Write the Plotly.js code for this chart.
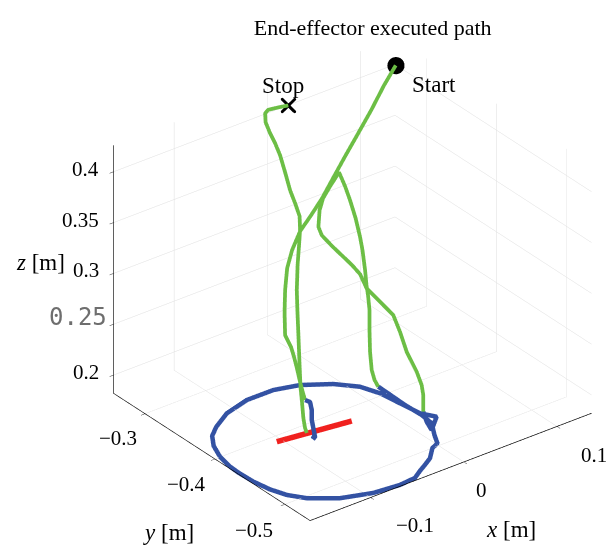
<!DOCTYPE html>
<html><head><meta charset="utf-8">
<script src="https://cdn.plot.ly/plotly-3.0.1.min.js"></script>
<style>html,body{margin:0;padding:0;background:#fff}</style>
</head><body>
<div id="chart" style="width:607px;height:547px"></div>
<script>
// descent from Start
const descentX = [0.1102,0.0966,0.0808,0.0642,0.0502,0.0371,0.0228,0.0106,-0.0014,-0.0122,-0.0206,-0.0282,-0.0348,-0.0409,-0.0403,-0.0411,-0.0424,-0.0441,-0.0452,-0.0458];
const descentY = [-0.2918,-0.2931,-0.2957,-0.2977,-0.2993,-0.3010,-0.3029,-0.3035,-0.3037,-0.3066,-0.3108,-0.3180,-0.3260,-0.3349,-0.3426,-0.3480,-0.3541,-0.3606,-0.3663,-0.3700];
const descentZ = [0.4249,0.4105,0.3926,0.3747,0.3597,0.3454,0.3296,0.3175,0.3060,0.2924,0.2795,0.2638,0.2480,0.2315,0.2230,0.2158,0.2072,0.1979,0.1900,0.1850];
// approach to the red bar (blue)
const approachX = [-0.0458,-0.0445,-0.0517,-0.0621,-0.0697,-0.0776,-0.0786,-0.0790];
const approachY = [-0.3700,-0.3754,-0.3874,-0.4013,-0.4137,-0.4267,-0.4237,-0.4300];
const approachZ = [0.185,0.185,0.185,0.185,0.185,0.185,0.185,0.185];
// ascent to Stop
const ascentX = [-0.0790,-0.0788,-0.0771,-0.0737,-0.0705,-0.0647,-0.0570,-0.0506,-0.0454,-0.0377,-0.0311,-0.0262,-0.0225,-0.0219,-0.0216,-0.0199,-0.0184,-0.0184,-0.0190,-0.0189,-0.0167,-0.0137,-0.0092,-0.0040,0.0013];
const ascentY = [-0.4167,-0.4139,-0.4093,-0.4029,-0.3965,-0.3873,-0.3754,-0.3654,-0.3576,-0.3485,-0.3418,-0.3367,-0.3311,-0.3239,-0.3163,-0.3069,-0.2978,-0.2907,-0.2843,-0.2777,-0.2741,-0.2743,-0.2770,-0.2801,-0.2834];
const ascentZ = [0.1850,0.1886,0.1957,0.2065,0.2172,0.2337,0.2552,0.2731,0.2874,0.3053,0.3196,0.3303,0.3404,0.3497,0.3590,0.3719,0.3840,0.3926,0.3998,0.4077,0.4141,0.4166,0.4177,0.4188,0.4198];
// up-and-down loop on the right
const loopX = [0.0074,0.0068,0.0077,0.0117,0.0175,0.0232,0.0264,0.0282,0.0315,0.0354,0.0375,0.0398,0.0411,0.0417,0.0416,0.0316,0.0235,0.0177,0.0122,0.0121,0.0160,0.0206,0.0241,0.0270,0.0274,0.0314,0.0378,0.0376,0.0365,0.0376,0.0372,0.0355,0.0288,0.0219];
const loopY = [-0.4038,-0.3993,-0.3940,-0.3863,-0.3778,-0.3702,-0.3638,-0.3592,-0.3528,-0.3439,-0.3376,-0.3282,-0.3185,-0.3106,-0.3021,-0.3026,-0.3034,-0.3061,-0.3118,-0.3167,-0.3263,-0.3363,-0.3440,-0.3516,-0.3606,-0.3696,-0.3847,-0.3946,-0.4056,-0.4185,-0.4261,-0.4307,-0.4396,-0.4489];
const loopZ = [0.1945,0.1993,0.2065,0.2194,0.2351,0.2494,0.2602,0.2673,0.2781,0.2924,0.3019,0.3153,0.3282,0.3382,0.3482,0.3382,0.3296,0.3210,0.3091,0.3031,0.2953,0.2876,0.2817,0.2752,0.2650,0.2578,0.2459,0.2339,0.2196,0.2053,0.1957,0.1886,0.1850,0.1850];
// circle (blue)
const circleX = [0.0202,0.0197,0.0191,0.0200,0.0181,0.0078,0.0010,-0.0071,-0.0195,-0.0299,-0.0395,-0.0502,-0.0676,-0.0940,-0.1219,-0.1444,-0.1545,-0.1600,-0.1632,-0.1639,-0.1633,-0.1599,-0.1528,-0.1434,-0.1314,-0.1099,-0.0825,-0.0541,-0.0309,-0.0074,0.0078,0.0145,0.0175,0.0206,0.0283,0.0111,0.0164,0.0245];
const circleY = [-0.3868,-0.4070,-0.4263,-0.4491,-0.4659,-0.4836,-0.4970,-0.5006,-0.5136,-0.5202,-0.5259,-0.5330,-0.5348,-0.5318,-0.5215,-0.5039,-0.4887,-0.4722,-0.4526,-0.4317,-0.4194,-0.4006,-0.3819,-0.3672,-0.3569,-0.3435,-0.3356,-0.3358,-0.3430,-0.3592,-0.3771,-0.3969,-0.4214,-0.4458,-0.4594,-0.4752,-0.4610,-0.4453];
const circleZ = circleX.map(() => 0.1825);
// red bar
const barX = [-0.1057,-0.0335];
const barY = [-0.4094,-0.4204];
const barZ = [0.1825,0.1825];
// markers
const startPt = [0.1102,-0.2918,0.4249];
const stopPt = [0.0013,-0.2834,0.4198];

// axes
const xRange = [-0.165,0.137], yRange = [-0.536,-0.255], zRange = [0.182,0.426];
const xTicks = [-0.1,0,0.1], xTickText = ['\u22120.1','0','0.1'];
const yTicks = [-0.5,-0.4,-0.3], yTickText = ['\u22120.5','\u22120.4','\u22120.3'];
const zTicks = [0.2,0.25,0.3,0.35,0.4], zTickText = ['0.2','0.25','0.3','0.35','0.4'];

const GREEN = '#6cbe45', BLUE = '#3352a3', RED = '#f0211f';
const SERIF = 'Liberation Serif';
const MONO = 'DejaVu Sans Mono';

function line(x,y,z,color,w){return {type:'scatter3d',mode:'lines',x:x,y:y,z:z,line:{color:color,width:w},hoverinfo:'skip',showlegend:false};}
const traces = [
  line(barX,barY,barZ,RED,11),
  line(circleX,circleY,circleZ,BLUE,9),
  line(approachX,approachY,approachZ,BLUE,9),
  line(descentX,descentY,descentZ,GREEN,7.5),
  line(ascentX,ascentY,ascentZ,GREEN,7.5),
  line(loopX,loopY,loopZ,GREEN,7.5),
  {type:'scatter3d',mode:'markers',x:[startPt[0]],y:[startPt[1]],z:[startPt[2]],marker:{color:'#000',size:10,symbol:'circle'},hoverinfo:'skip',showlegend:false},
  {type:'scatter3d',mode:'markers',x:[stopPt[0]],y:[stopPt[1]],z:[stopPt[2]],marker:{color:'#000',size:3.5,symbol:'x'},hoverinfo:'skip',showlegend:false}
];

function ax(range,tv){
  return {range:range,tickvals:tv,showticklabels:false,title:{text:''},
    showgrid:true,gridcolor:'#dedede',gridwidth:1,
    showline:true,linecolor:'#000',linewidth:1.5,ticks:'outside',ticklen:5,tickcolor:'#262626',
    zeroline:false,showbackground:false,showspikes:false};
}
const tickFont = {family:SERIF,size:21,color:'#000'};
const labFont = {family:SERIF,size:23,color:'#000'};
const ann = [];
// z tick labels
const zShift = [[-13,3],[-5,7],[-13,3],[-13,3],[-13,3]];
zTicks.forEach((t,i)=>ann.push({x:xRange[0],y:yRange[1],z:t,text:zTickText[i],showarrow:false,xanchor:'right',yanchor:'middle',
  xshift:zShift[i][0],yshift:zShift[i][1],font:(t===0.25?{family:MONO,size:24,color:'#6e6e6e'}:tickFont)}));
// y tick labels
const yShift = [[-31,-26],[-28,-25],[-27,-24]];
yTicks.forEach((t,i)=>ann.push({x:xRange[0],y:t,z:zRange[0],text:yTickText[i],showarrow:false,xanchor:'center',yanchor:'middle',
  xshift:yShift[i][0],yshift:yShift[i][1],font:tickFont}));
// x tick labels
const xShift = [[44,-28],[18,-28],[37,-29]];
xTicks.forEach((t,i)=>ann.push({x:t,y:yRange[0],z:zRange[0],text:xTickText[i],showarrow:false,xanchor:'center',yanchor:'middle',
  xshift:xShift[i][0],yshift:xShift[i][1],font:tickFont}));
// axis titles
ann.push({x:xRange[0],y:yRange[1],z:0.304,text:'<i>z</i> [m]',showarrow:false,xanchor:'center',yanchor:'middle',xshift:-73,yshift:7,font:labFont});
ann.push({x:xRange[0],y:-0.4,z:zRange[0],text:'<i>y</i> [m]',showarrow:false,xanchor:'center',yanchor:'middle',xshift:-46,yshift:-73,font:labFont});
ann.push({x:0,y:yRange[0],z:zRange[0],text:'<i>x</i> [m]',showarrow:false,xanchor:'center',yanchor:'middle',xshift:47,yshift:-68,font:labFont});
// point labels
ann.push({x:startPt[0],y:startPt[1],z:startPt[2],text:'Start',showarrow:false,xanchor:'left',yanchor:'middle',xshift:14,yshift:-19,font:labFont});
ann.push({x:stopPt[0],y:stopPt[1],z:stopPt[2],text:'Stop',showarrow:false,xanchor:'center',yanchor:'middle',xshift:-5,yshift:20,font:labFont});

const layout = {
  width:607,height:547,margin:{l:0,r:0,t:0,b:0},paper_bgcolor:'#fff',
  title:{text:'End-effector executed path',x:0.614,xanchor:'center',y:0.9506,yanchor:'middle',font:{family:SERIF,size:22,color:'#000'}},
  scene:{
    domain:{x:[0,1],y:[0,1]},
    aspectmode:'manual',aspectratio:{x:1.297,y:1.180,z:1.045},
    camera:{projection:{type:'orthographic'},up:{x:0,y:0,z:1},
      center:{x:-0.1358,y:0.1175,z:0.0184},
      eye:{x:-1.1924,y:-1.2595,z:1.0124}},
    xaxis:ax(xRange,xTicks),
    yaxis:ax(yRange,yTicks),
    zaxis:ax(zRange,zTicks),
    annotations:ann
  }
};
Plotly.newPlot('chart',traces,layout,{displayModeBar:false});
</script>
</body></html>
